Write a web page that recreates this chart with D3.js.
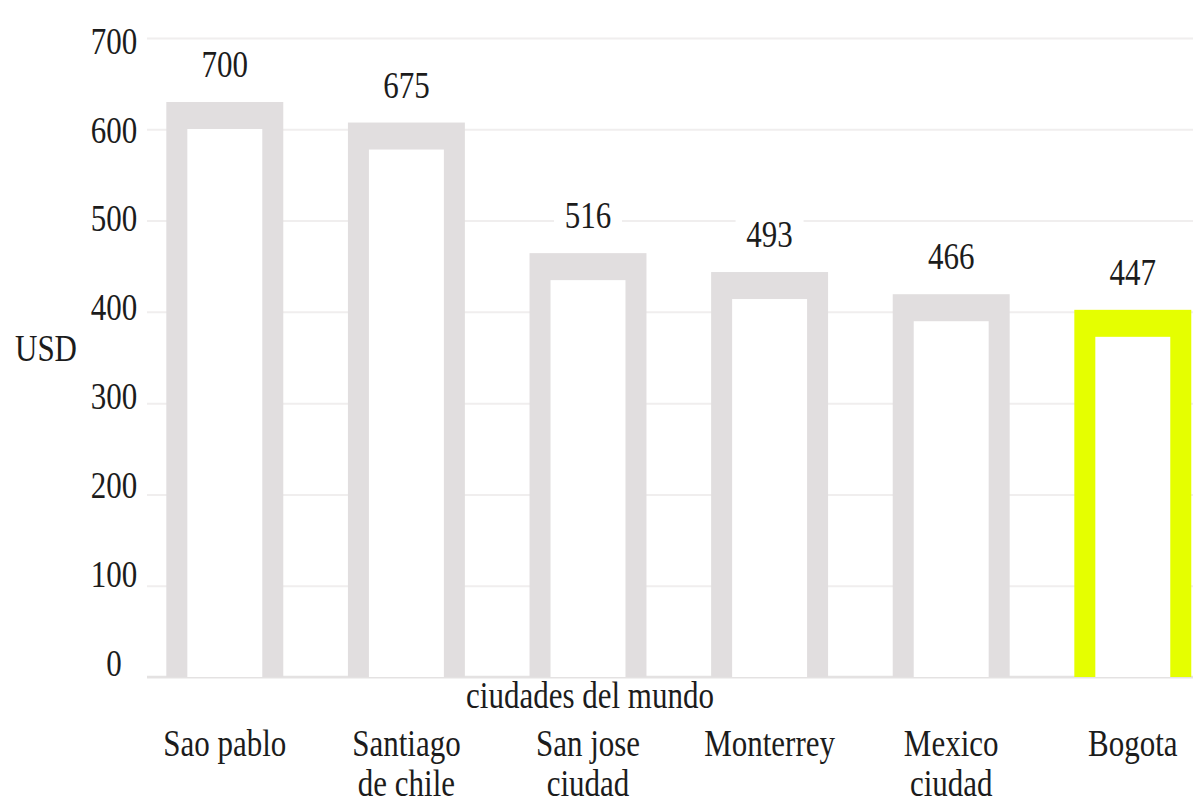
<!DOCTYPE html>
<html>
<head>
<meta charset="utf-8">
<script src="https://cdn.jsdelivr.net/npm/d3@7"></script>
<style>
  html, body { margin: 0; padding: 0; background: #ffffff; }
  svg { display: block; }
  text { font-family: "Liberation Serif", "Times New Roman", serif; font-size: 31px; fill: #1c1c1c; }
</style>
</head>
<body>
<svg id="chart" width="1197" height="808"></svg>
<script>
// ---- data ----
const categories = ["Sao pablo", "Santiago\nde chile", "San jose\nciudad", "Monterrey", "Mexico\nciudad", "Bogota"];
const values = [700, 675, 516, 493, 466, 447];
const barColors = ["#e1dedf", "#e1dedf", "#e1dedf", "#e1dedf", "#e1dedf", "#e5ff00"];
const yTicks = [0, 100, 200, 300, 400, 500, 600, 700];
const yTitle = "USD";
const xTitle = "ciudades del mundo";

(function () {
// ---- layout ----
const W = 1197, H = 808;
const VS = 1.25; // vertical stretch of the source text
const svg = d3.select("#chart");
svg.append("rect").attr("width", W).attr("height", H).attr("fill", "#fff");

const x = d3.scaleBand().domain(categories).range([134, 1223.6]).paddingInner(0.356).paddingOuter(0.178);
const yBar = d3.scaleLinear().domain([0, 700]).range([677, 102]);
const yGrid = d3.scaleLinear().domain([0, 700]).range([677, 38]);
const yLab = d3.scaleLinear().domain([0, 700]).range([662, 40]);

// gridlines
const grid = svg.append("g").attr("transform", "translate(147,0)")
  .call(d3.axisLeft(yGrid).tickValues(yTicks).tickSize(-1046).tickFormat(""));
grid.select(".domain").remove();
grid.selectAll(".tick line").attr("stroke", "#f0eeee").attr("stroke-width", 2);

// baseline
svg.append("line").attr("x1", 147).attr("x2", 1193)
  .attr("y1", yBar(0)).attr("y2", yBar(0))
  .attr("stroke", "#e4e2e2").attr("stroke-width", 2.5);

// bars (outlined)
const sideW = 21, topW = 27;
const bars = svg.append("g").selectAll("g").data(categories).join("g");
bars.append("rect")
  .attr("x", d => x(d)).attr("width", x.bandwidth())
  .attr("y", (d, i) => yBar(values[i]))
  .attr("height", (d, i) => yBar(0) - yBar(values[i]))
  .attr("fill", (d, i) => barColors[i]);
bars.append("rect")
  .attr("x", d => x(d) + sideW).attr("width", x.bandwidth() - 2 * sideW)
  .attr("y", (d, i) => yBar(values[i]) + topW)
  .attr("height", (d, i) => yBar(0) - yBar(values[i]) - topW)
  .attr("fill", "#ffffff");

// value labels
const vl = svg.append("g").selectAll("g").data(categories).join("g")
  .attr("transform", (d, i) => `translate(${x(d) + x.bandwidth() / 2},${yBar(values[i]) - 38})`);
vl.append("rect").attr("x", -34).attr("y", -20).attr("width", 68).attr("height", 40).attr("fill", "#fff");
vl.append("text").attr("text-anchor", "middle").attr("dy", "0.34em")
  .attr("transform", `scale(1,${VS})`)
  .text((d, i) => values[i]);

// y axis labels
const ya = svg.append("g").attr("transform", "translate(114,0)")
  .call(d3.axisLeft(yLab).tickValues(yTicks).tickSize(0).tickPadding(0));
ya.select(".domain").remove();
ya.attr("font-family", null).attr("font-size", null);
ya.selectAll(".tick text")
  .attr("x", 0).attr("dy", "0.34em").attr("text-anchor", "middle").attr("fill", null)
  .attr("transform", `scale(1,${VS})`);

// x axis labels
const xa = svg.append("g").attr("transform", "translate(0,756)")
  .call(d3.axisBottom(x).tickSize(0).tickPadding(0));
xa.select(".domain").remove();
xa.attr("font-family", null).attr("font-size", null);
xa.selectAll(".tick text").each(function (d) {
  const t = d3.select(this);
  t.text(null).attr("y", 0).attr("dy", null).attr("fill", null)
    .attr("text-anchor", "middle").attr("transform", `scale(1,${VS})`);
  d.split("\n").forEach((line, k) => {
    t.append("tspan").attr("x", 0).attr("dy", k === 0 ? 0 : 32).text(line);
  });
});

// axis titles
svg.append("text").attr("text-anchor", "middle").attr("dy", "0.34em")
  .attr("transform", `translate(590,695) scale(1,${VS})`).text(xTitle);
svg.append("text").attr("text-anchor", "middle").attr("dy", "0.34em")
  .attr("transform", `translate(46,348) scale(1,${VS})`).text(yTitle);
})();
</script>
</body>
</html>
